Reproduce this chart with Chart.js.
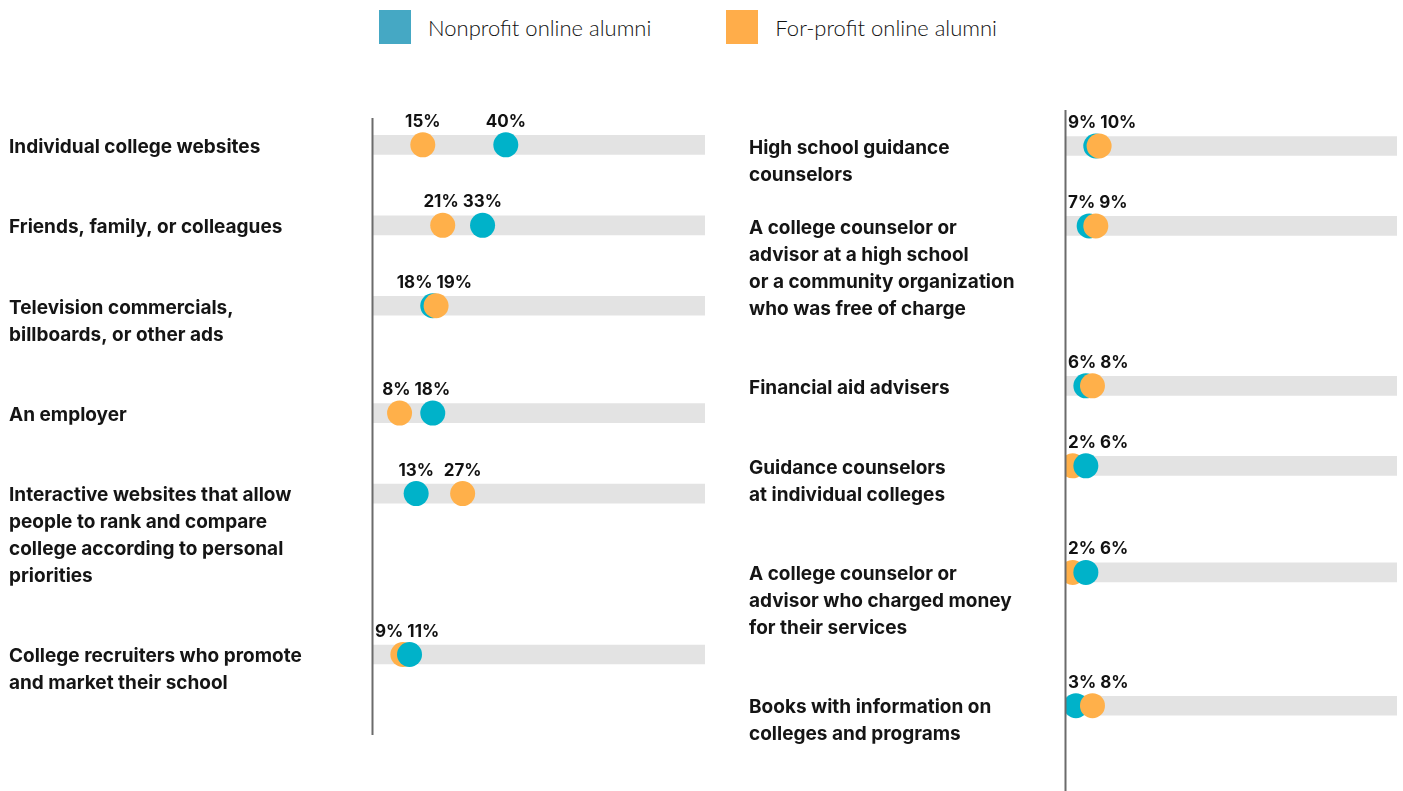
<!DOCTYPE html>
<html>
<head>
<meta charset="utf-8">
<script src="https://cdn.jsdelivr.net/npm/chart.js@4"></script>
<style>
  body { margin: 0; background: #fff; width: 1403px; height: 791px; position: relative; overflow: hidden; }
  canvas { position: absolute; top: 0; }
  #left-chart { left: 0; }
  #right-chart { left: 720px; }
  #legend { position: absolute; left: 379px; top: 10px; display: flex; font-family: Lato, sans-serif; font-weight: 300; font-size: 22px; color: #111; }
  #legend .item { display: flex; align-items: center; margin-right: 75px; }
  #legend .swatch { width: 32px; height: 34px; margin-right: 17px; }
</style>
</head>
<body>
<div id="legend"></div>
<canvas id="left-chart" width="720" height="791"></canvas>
<canvas id="right-chart" width="683" height="791"></canvas>
<script>
const seriesNames = ['Nonprofit online alumni', 'For-profit online alumni'];

const leftLabels = [
  ['Individual college websites'],
  ['Friends, family, or colleagues'],
  ['Television commercials,', 'billboards, or other ads'],
  ['An employer'],
  ['Interactive websites that allow', 'people to rank and compare', 'college according to personal', 'priorities'],
  ['College recruiters who promote', 'and market their school']
];
const leftNonprofit = [40, 33, 18, 18, 13, 11];
const leftForprofit = [15, 21, 19, 8, 27, 9];

const rightLabels = [
  ['High school guidance', 'counselors'],
  ['A college counselor or', 'advisor at a high school', 'or a community organization', 'who was free of charge'],
  ['Financial aid advisers'],
  ['Guidance counselors', 'at individual colleges'],
  ['A college counselor or', 'advisor who charged money', 'for their services'],
  ['Books with information on', 'colleges and programs']
];
const rightNonprofit = [9, 7, 6, 6, 6, 3];
const rightForprofit = [10, 9, 8, 2, 2, 8];

const trackMax = 100;

const TEAL = '#00b2c9';
const ORANGE = '#ffb04a';
const legendColors = ['#45a8c4', '#ffad4a'];
const LABEL_FONT = '700 19px Inter';
const VALUE_FONT = '700 17px Inter';

// legend
const legend = document.getElementById('legend');
seriesNames.forEach((name, i) => {
  const item = document.createElement('div');
  item.className = 'item';
  const sw = document.createElement('span');
  sw.className = 'swatch';
  sw.style.background = legendColors[i];
  item.appendChild(sw);
  item.appendChild(document.createTextNode(name));
  legend.appendChild(item);
});

function makePanel(id, labels, nonprofit, forprofit, layout) {
  const slots = layout.slots;
  // the higher value of each pair is drawn on top
  const pairs = labels.map((_, i) => {
    const a = { x: nonprofit[i], y: slots[i], color: TEAL };
    const b = { x: forprofit[i], y: slots[i], color: ORANGE };
    return a.x <= b.x ? [a, b] : [b, a];
  });

  const dotStyle = { type: 'scatter', pointRadius: 12.5, pointHoverRadius: 12.5, pointBorderWidth: 0, showLine: false };

  const panelDecor = {
    id: 'panelDecor',
    afterDatasetsDraw(chart) {
      const { ctx, chartArea: area, scales } = chart;
      ctx.save();
      ctx.strokeStyle = '#6b6b6b';
      ctx.lineWidth = 2;
      ctx.beginPath();
      ctx.moveTo(area.left - 0.5, area.top);
      ctx.lineTo(area.left - 0.5, area.bottom);
      ctx.stroke();

      // value labels above the dots, pushed apart when they would collide
      ctx.font = VALUE_FONT;
      ctx.fillStyle = '#111';
      ctx.textBaseline = 'alphabetic';
      ctx.textAlign = 'left';
      const gap = 4;
      pairs.forEach(([p, q]) => {
        const y = scales.y.getPixelForValue(p.y) - 18;
        const pt = p.x + '%', qt = q.x + '%';
        const px = scales.x.getPixelForValue(p.x), qx = scales.x.getPixelForValue(q.x);
        const pw = ctx.measureText(pt).width, qw = ctx.measureText(qt).width;
        let l1 = px - pw / 2, l2 = qx - qw / 2;
        if (l1 + pw + gap > l2) {
          const mid = (px + qx) / 2;
          l1 = mid - (pw + gap + qw) / 2;
          l2 = l1 + pw + gap;
        }
        const minLeft = area.left + 2;
        if (l1 < minLeft) {
          l2 += minLeft - l1;
          l1 = minLeft;
        }
        ctx.fillText(pt, l1, y);
        ctx.fillText(qt, l2, y);
      });

      // row labels
      ctx.font = LABEL_FONT;
      ctx.fillStyle = '#151515';
      ctx.textBaseline = 'middle';
      labels.forEach((lines, i) => {
        const y = scales.y.getPixelForValue(slots[i]) + 2;
        lines.forEach((line, j) => ctx.fillText(line, layout.labelX, y + j * 27));
      });
      ctx.restore();
    }
  };

  return new Chart(document.getElementById(id), {
    type: 'bar',
    data: {
      datasets: [
        Object.assign({}, dotStyle, {
          data: pairs.map(p => p[1]),
          pointBackgroundColor: pairs.map(p => p[1].color),
          order: 1
        }),
        Object.assign({}, dotStyle, {
          data: pairs.map(p => p[0]),
          pointBackgroundColor: pairs.map(p => p[0].color),
          order: 2
        }),
        {
          type: 'bar',
          indexAxis: 'y',
          data: slots.map(s => ({ x: trackMax, y: s })),
          backgroundColor: '#e3e3e3',
          barThickness: 19,
          order: 3
        }
      ]
    },
    options: {
      responsive: false,
      animation: false,
      events: [],
      layout: { padding: layout.padding, autoPadding: false },
      plugins: { legend: { display: false }, tooltip: { enabled: false } },
      scales: {
        x: { type: 'linear', min: 0, max: trackMax, offset: false, grace: 0, display: false },
        y: { type: 'linear', min: layout.yMin, max: layout.yMax, offset: false, grace: 0, reverse: true, display: false }
      }
    },
    plugins: [panelDecor]
  });
}

makePanel('left-chart', leftLabels, leftNonprofit, leftForprofit, {
  slots: [0, 3, 6, 10, 13, 19],
  padding: { left: 373, right: 15, top: 118, bottom: 56 },
  yMin: -1, yMax: 22,
  labelX: 9
});

makePanel('right-chart', rightLabels, rightNonprofit, rightForprofit, {
  slots: [0, 3, 9, 12, 16, 21],
  padding: { left: 346, right: 6, top: 110, bottom: 0 },
  yMin: -1.35, yMax: 24.2,
  labelX: 29
});
</script>
</body>
</html>
